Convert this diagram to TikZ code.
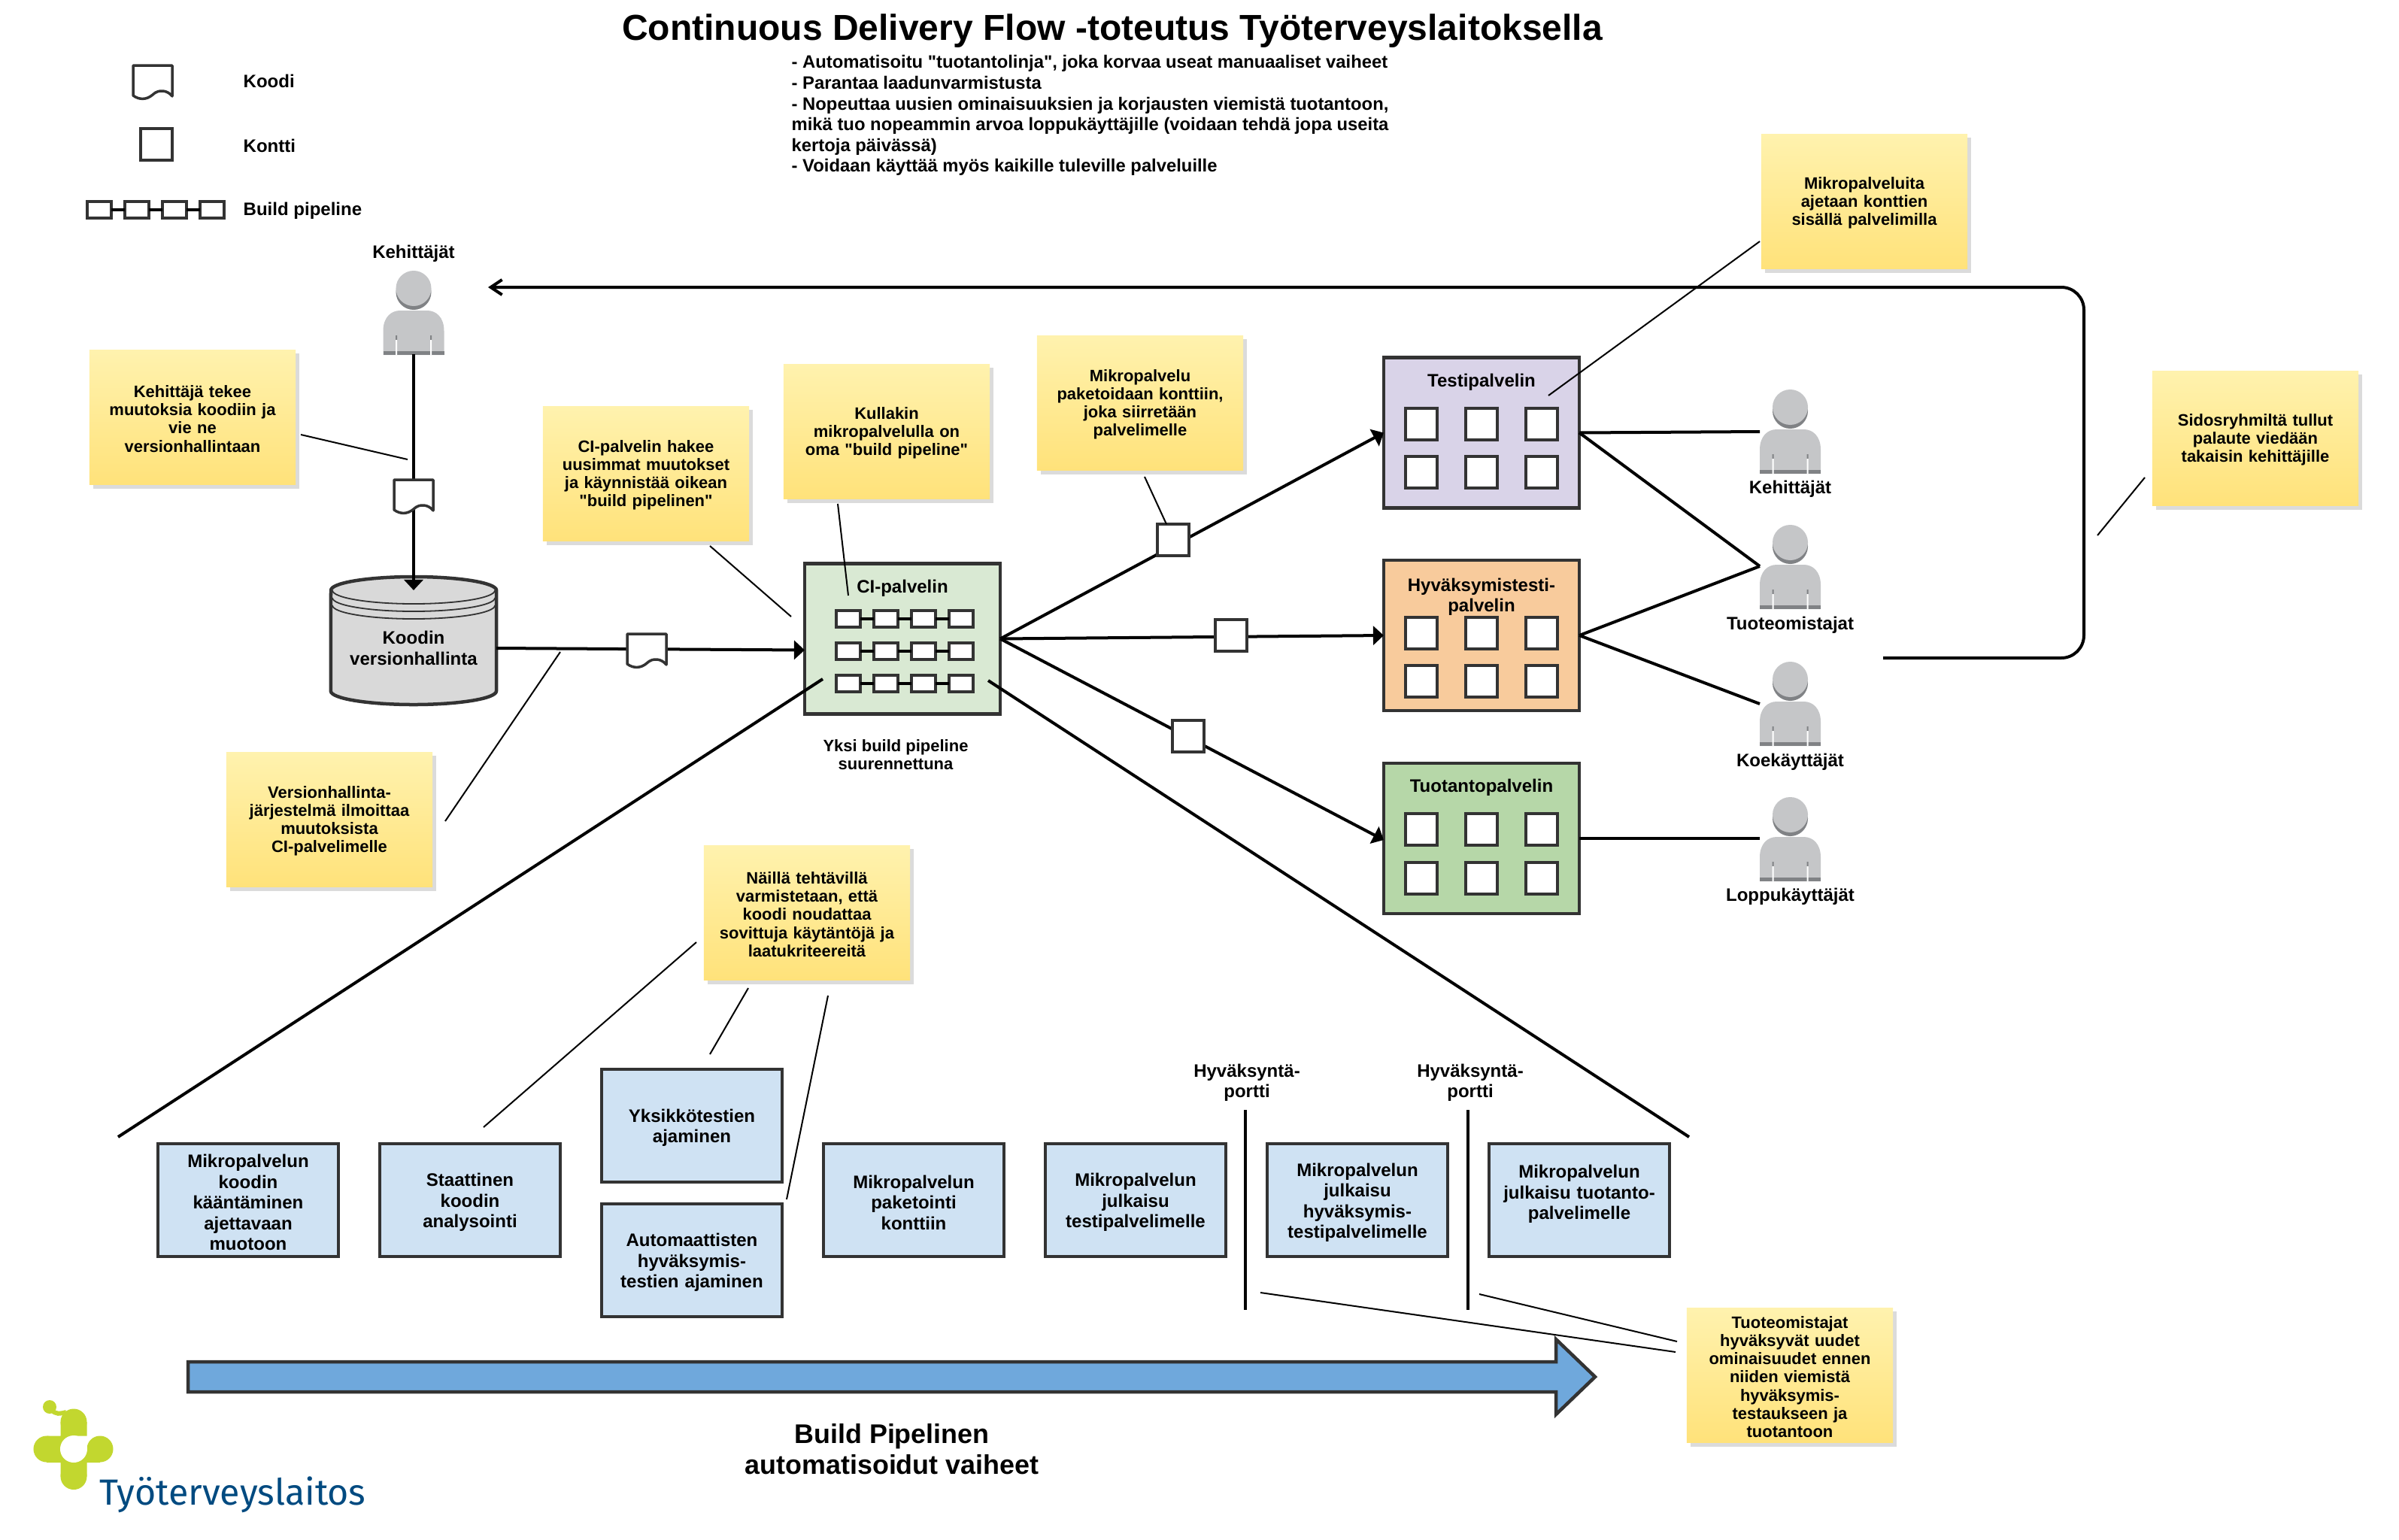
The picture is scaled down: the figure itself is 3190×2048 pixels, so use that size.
\documentclass[tikz,border=0pt]{standalone}
\usepackage{fontspec}
\setmainfont{Liberation Sans}[Ligatures=TeXOff]
\newfontfamily\logofont{Fira Sans}
\usepackage{xcolor}
\usetikzlibrary{arrows.meta, calc, positioning, shadows}

\definecolor{reuna}{HTML}{333333}
\definecolor{logolime}{HTML}{C2D72F}
\definecolor{logoblue}{HTML}{004A80}
\definecolor{lappuyla}{HTML}{FFF2AE}
\definecolor{lappuala}{HTML}{FFE27A}
\definecolor{vaihevari}{HTML}{CFE2F3}
\definecolor{civari}{HTML}{D9E9D3}
\definecolor{testivari}{HTML}{D9D3E8}
\definecolor{hyvvari}{HTML}{F8CB9C}
\definecolor{prodvari}{HTML}{B6D7A8}
\definecolor{nuolivari}{HTML}{6FA8DC}
\definecolor{henkvari}{HTML}{C5C6C8}
\definecolor{henktumma}{HTML}{808285}

\newcommand{\pienifont}{\fontsize{6.25}{6.85}\selectfont\bfseries}
\newcommand{\perusfont}{\fontsize{6.83}{7.8}\selectfont\bfseries}

\tikzset{
    sticky/.style={shading=axis, top color=lappuyla, bottom color=lappuala, minimum width=2.74cm, minimum height=1.79cm, text width=2.7cm, inner sep=0pt, outer sep=0pt, align=center, font=\pienifont, execute at begin node={\rule{0pt}{.2cm}}, drop shadow={shadow xshift=.05cm, shadow yshift=-.05cm, fill=black!14, opacity=1}},
    server/.style={draw=reuna, line width=.045cm, minimum width=2.6cm, minimum height=2cm, inner sep=0pt, outer sep=0pt},
    stagebox/.style={draw=reuna, fill=vaihevari, line width=.045cm, minimum width=2.4cm, minimum height=1.5cm, text width=2.36cm, inner sep=0pt, outer sep=0pt, align=center, font=\perusfont, execute at begin node={\rule{0pt}{.235cm}}},
    kontti/.style={draw=reuna, fill=white, line width=.04cm, minimum width=.42cm, minimum height=.42cm, inner sep=0pt, outer sep=0pt},
    vaihe/.style={draw=reuna, fill=white, line width=.04cm, minimum width=.32cm, minimum height=.22cm, inner sep=0pt, outer sep=0pt},
    otsake/.style={align=center, inner sep=0pt, font=\perusfont},
    pieniotsake/.style={align=center, inner sep=0pt, font=\pienifont},
    yhteys/.style={line width=.04cm, black},
    ohut/.style={line width=.02cm, black},
    koodi/.pic={
        \draw[draw=reuna, fill=white, line width=.035cm, line join=round] (-26,-22) -- (26,-22) -- (26,19) .. controls (20,11) and (8,9) .. (0,17) .. controls (-8,24) and (-18,24) .. (-26,18) -- cycle;
    },
    henkilo/.pic={
        \fill[henktumma] (0,28.5) circle[radius=.235cm];
        \fill[henkvari] (0,23.5) circle[radius=.235cm];
        \fill[henkvari] (-40.5,112) -- (-40.5,80) .. controls (-40.5,62) and (-30,53) .. (-18,53) -- (18,53) .. controls (30,53) and (40.5,62) .. (40.5,80) -- (40.5,112) -- cycle;
        \fill[henktumma] (-40.5,107) rectangle (40.5,112);
        \fill[henktumma] (-24,86) rectangle (-22,92) (22,86) rectangle (24,92);
        \fill[white] (-24,92) rectangle (-22,112) (22,92) rectangle (24,112);
    },
}

\begin{document}
\begin{tikzpicture}[x=.01cm, y=-.01cm, >={Triangle[length=.14cm,width=.25cm]}]
    \useasboundingbox (0,0) rectangle (3190,2048);

    % Otsikko ja luettelo
    \node[font=\fontsize{13.65}{16}\selectfont\bfseries, inner sep=0pt] (title) at (1479,41) {Continuous Delivery Flow -toteutus Työterveyslaitoksella};
    \node[anchor=north west, align=left, inner sep=0pt, font=\fontsize{6.77}{7.83}\selectfont\bfseries] (hyodyt) at (1052,73) {- Automatisoitu "tuotantolinja", joka korvaa useat manuaaliset vaiheet\\- Parantaa laadunvarmistusta\\- Nopeuttaa uusien ominaisuuksien ja korjausten viemistä tuotantoon,\\mikä tuo nopeammin arvoa loppukäyttäjille (voidaan tehdä jopa useita\\kertoja päivässä)\\- Voidaan käyttää myös kaikille tuleville palveluille};

    % Selite
    \pic at (203,109) {koodi};
    \node[kontti] (konttiselite) at (208,192) {};
    \foreach \i/\x in {1/132,2/182,3/232,4/282} {
        \node[vaihe] (sel\i) at (\x,279) {};
    }
    \draw[yhteys] (sel1) -- (sel2);
    \draw[yhteys] (sel2) -- (sel3);
    \draw[yhteys] (sel3) -- (sel4);
    \node[otsake, anchor=west] (koodilabel) at (323,108) {Koodi};
    \node[otsake, anchor=west] (konttilabel) at (323,194) {Kontti};
    \node[otsake, anchor=west] (pipelabel) at (323,280) {Build pipeline};

    % Kehittäjät ja versionhallinta
    \node[otsake] (devlabel) at (550,337) {Kehittäjät};
    \pic at (550,360) {henkilo};
    \coordinate (dev) at (550,471);
    \coordinate (devback) at (649,382);
    \draw[draw=reuna, fill=black!15, line width=.045cm] (440,785) arc[start angle=180, end angle=0, x radius=1.1cm, y radius=.18cm] -- (660,919) arc[start angle=0, end angle=-180, x radius=1.1cm, y radius=.18cm] -- cycle;
    \draw[draw=reuna, line width=.018cm] (442,785) arc[start angle=180, end angle=360, x radius=1.08cm, y radius=.18cm];
    \draw[draw=reuna, line width=.018cm] (442,795) arc[start angle=180, end angle=360, x radius=1.08cm, y radius=.18cm];
    \draw[draw=reuna, line width=.018cm] (442,805) arc[start angle=180, end angle=360, x radius=1.08cm, y radius=.18cm];
    \node[otsake, minimum width=2.2cm, minimum height=1.54cm, outer sep=0pt] (repo) at (550,862) {Koodin\\versionhallinta};
    \draw[yhteys, ->] (dev) -- (repo.north);
    \pic at (550,660) {koodi};

    % CI-palvelin
    \node[server, fill=civari] (ci) at (1200,849.5) {};
    \node[otsake] (cilabel) at (1200,782) {CI-palvelin};
    \draw[yhteys, ->] (repo.east) -- ($(ci.west)+(0,15)$);
    \pic at (860,865) {koodi};
    \foreach \r/\y in {a/823,b/866,c/909} {
        \foreach \i/\x in {1/1128,2/1178,3/1228,4/1278} {
            \node[vaihe] (\r\i) at (\x,\y) {};
        }
        \draw[yhteys] (\r1) -- (\r2);
        \draw[yhteys] (\r2) -- (\r3);
        \draw[yhteys] (\r3) -- (\r4);
    }
    \node[pieniotsake] (suurennus) at (1191,1004) {Yksi build pipeline\\suurennettuna};

    % Palvelimet
    \node[server, fill=testivari] (test) at (1970,575.5) {};
    \node[server, fill=hyvvari] (hyv) at (1970,845) {};
    \node[server, fill=prodvari] (prod) at (1970,1115) {};
    \node[otsake] (testlabel) at (1970,508) {Testipalvelin};
    \node[otsake] (hyvlabel) at (1970,794) {Hyväksymistesti-\\palvelin};
    \node[otsake] (prodlabel) at (1970,1047) {Tuotantopalvelin};
    \foreach \s/\ya/\yb in {test/564/628,hyv/842/906,prod/1103/1168} {
        \foreach \x in {1890,1970,2050} {
            \node[kontti] (\s\x a) at (\x,\ya) {};
            \node[kontti] (\s\x b) at (\x,\yb) {};
        }
    }

    \draw[yhteys, ->] (ci.east) -- (test.west);
    \draw[yhteys, ->] (ci.east) -- (hyv.west);
    \draw[yhteys, ->] (ci.east) -- ($(prod.west)+(0,2)$);
    \node[kontti] (k1) at (1560,718) {};
    \node[kontti] (k2) at (1637,845) {};
    \node[kontti] (k3) at (1580,979) {};

    % Käyttäjät
    \pic at (2380.5,518) {henkilo};
    \pic at (2380.5,698) {henkilo};
    \pic at (2380.5,880) {henkilo};
    \pic at (2380.5,1060) {henkilo};
    \node[otsake] (u1) at (2380.5,650) {Kehittäjät};
    \node[otsake] (u2) at (2380.5,831) {Tuoteomistajat};
    \node[otsake] (u3) at (2380.5,1013) {Koekäyttäjät};
    \node[otsake] (u4) at (2380.5,1192) {Loppukäyttäjät};
    \coordinate (p1) at (2340,574);
    \coordinate (p2) at (2340,753);
    \coordinate (p3) at (2340,936);
    \coordinate (p4) at (2340,1115);
    \draw[yhteys] (test.east) -- (p1);
    \draw[yhteys] (test.east) -- (p2);
    \draw[yhteys] (hyv.east) -- (p2);
    \draw[yhteys] (hyv.east) -- (p3);
    \draw[yhteys] (prod.east) -- (p4);

    % Palaute takaisin kehittäjille
    \coordinate (palaute) at (2504,875);
    \draw[yhteys, rounded corners=.3cm, -{Straight Barb[length=.15cm,width=.2cm]}] (palaute) -- (2771,875) -- (2771,382) -- (devback);

    % Build pipelinen vaiheet
    \coordinate (zoomvasen) at (1094,903);
    \coordinate (zoomvasen2) at (157,1512);
    \coordinate (zoomoikea) at (1314,905);
    \coordinate (zoomoikea2) at (2246,1512);
    \draw[yhteys] (zoomvasen) -- (zoomvasen2);
    \draw[yhteys] (zoomoikea) -- (zoomoikea2);

    \node[stagebox] (s1) at (330,1596) {Mikropalvelun\\koodin\\kääntäminen\\ajettavaan\\muotoon};
    \node[stagebox] (s2) at (625,1596) {Staattinen\\koodin\\analysointi};
    \node[stagebox] (s3) at (920,1497) {Yksikkötestien\\ajaminen};
    \node[stagebox] (s4) at (920,1676) {Automaattisten\\hyväksymis-\\testien ajaminen};
    \node[stagebox] (s5) at (1215,1596) {Mikropalvelun\\paketointi\\konttiin};
    \node[stagebox] (s6) at (1510,1596) {Mikropalvelun\\julkaisu\\testipalvelimelle};
    \node[stagebox] (s7) at (1805,1596) {Mikropalvelun\\julkaisu\\hyväksymis-\\testipalvelimelle};
    \node[stagebox] (s8) at (2100,1596) {Mikropalvelun\\julkaisu tuotanto-\\palvelimelle\\\mbox{}};

    % Hyväksyntäportit
    \node[otsake] (portti1) at (1658,1440) {Hyväksyntä-\\portti};
    \node[otsake] (portti2) at (1955,1440) {Hyväksyntä-\\portti};
    \coordinate (g1a) at (1656,1476);
    \coordinate (g1b) at (1656,1742);
    \coordinate (g2a) at (1952,1476);
    \coordinate (g2b) at (1952,1742);
    \draw[yhteys] (g1a) -- (g1b);
    \draw[yhteys] (g2a) -- (g2b);

    % Iso nuoli
    \draw[draw=reuna, fill=nuolivari, line width=.045cm] (250,1811) -- (2069,1811) -- (2069,1781) -- (2121,1831) -- (2069,1881) -- (2069,1851) -- (250,1851) -- cycle;
    \node[align=center, inner sep=0pt, font=\fontsize{10.2}{11.7}\selectfont\bfseries] (vaiheet) at (1186,1927) {Build Pipelinen\\automatisoidut vaiheet};

    % Muistilaput
    \node[sticky] (n1) at (256,555) {Kehittäjä tekee\\muutoksia koodiin ja\\vie ne\\versionhallintaan};
    \node[sticky] (n2) at (859,630) {CI-palvelin hakee\\uusimmat muutokset\\ja käynnistää oikean\\"build pipelinen"};
    \node[sticky] (n3) at (1179,574) {Kullakin\\mikropalvelulla on\\oma "build pipeline"};
    \node[sticky] (n4) at (1516,536) {Mikropalvelu\\paketoidaan konttiin,\\joka siirretään\\palvelimelle};
    \node[sticky] (n5) at (2479,268) {Mikropalveluita\\ajetaan konttien\\sisällä palvelimilla};
    \node[sticky] (n6) at (2999,583) {Sidosryhmiltä tullut\\palaute viedään\\takaisin kehittäjille};
    \node[sticky] (n7) at (438,1090) {Versionhallinta-\\järjestelmä ilmoittaa\\muutoksista\\CI-palvelimelle};
    \node[sticky] (n8) at (1073,1214) {Näillä tehtävillä\\varmistetaan, että\\koodi noudattaa\\sovittuja käytäntöjä ja\\laatukriteereitä};
    \node[sticky] (n9) at (2380,1829) {Tuoteomistajat\\hyväksyvät uudet\\ominaisuudet ennen\\niiden viemistä\\hyväksymis-\\testaukseen ja\\tuotantoon};

    % Ohuet viivat lapuilta
    \coordinate (l1a) at (400,578);   \coordinate (l1b) at (542,611);
    \coordinate (l2a) at (944,726);   \coordinate (l2b) at (1052,820);
    \coordinate (l3a) at (1114,670);  \coordinate (l3b) at (1128,792);
    \coordinate (l4a) at (1522,634);  \coordinate (l4b) at (1551,697);
    \coordinate (l5a) at (2340,321);  \coordinate (l5b) at (2059,526);
    \coordinate (l6a) at (2852,635);  \coordinate (l6b) at (2789,712);
    \coordinate (l7a) at (745,867);   \coordinate (l7b) at (592,1092);
    \coordinate (l8a) at (926,1253);  \coordinate (l8b) at (643,1499);
    \coordinate (l9a) at (995,1314);  \coordinate (l9b) at (944,1402);
    \coordinate (l10a) at (1101,1324); \coordinate (l10b) at (1046,1595);
    \coordinate (l11a) at (2228,1798); \coordinate (l11b) at (1676,1719);
    \coordinate (l12a) at (2230,1784); \coordinate (l12b) at (1967,1721);
    \foreach \i in {1,...,12} {
        \draw[ohut] (l\i a) -- (l\i b);
    }

    % Logo
    \fill[logolime] (98,1891) circle[radius=.175cm] (62,1927) circle[radius=.175cm] (133,1927) circle[radius=.175cm] (98,1963.5) circle[radius=.175cm];
    \fill[logolime] (62,1909.5) rectangle (98,1945) (80.5,1891) rectangle (115.5,1909.5) (80.5,1927) rectangle (115.5,1963.5) (98,1927) rectangle (133,1945);
    \fill[white] (98,1927) circle[radius=.18cm];
    \fill[logolime] (66,1871) circle[radius=.09cm];
    \draw[logolime, line width=.06cm] (68,1874) .. controls (74,1882) and (80,1880) .. (88,1878);
    \node[anchor=base west, inner sep=0pt, text=logoblue, font=\logofont\fontsize{13.75}{16}\selectfont] (logo) at (132,2001) {Työterveyslaitos};
\end{tikzpicture}
\end{document}
